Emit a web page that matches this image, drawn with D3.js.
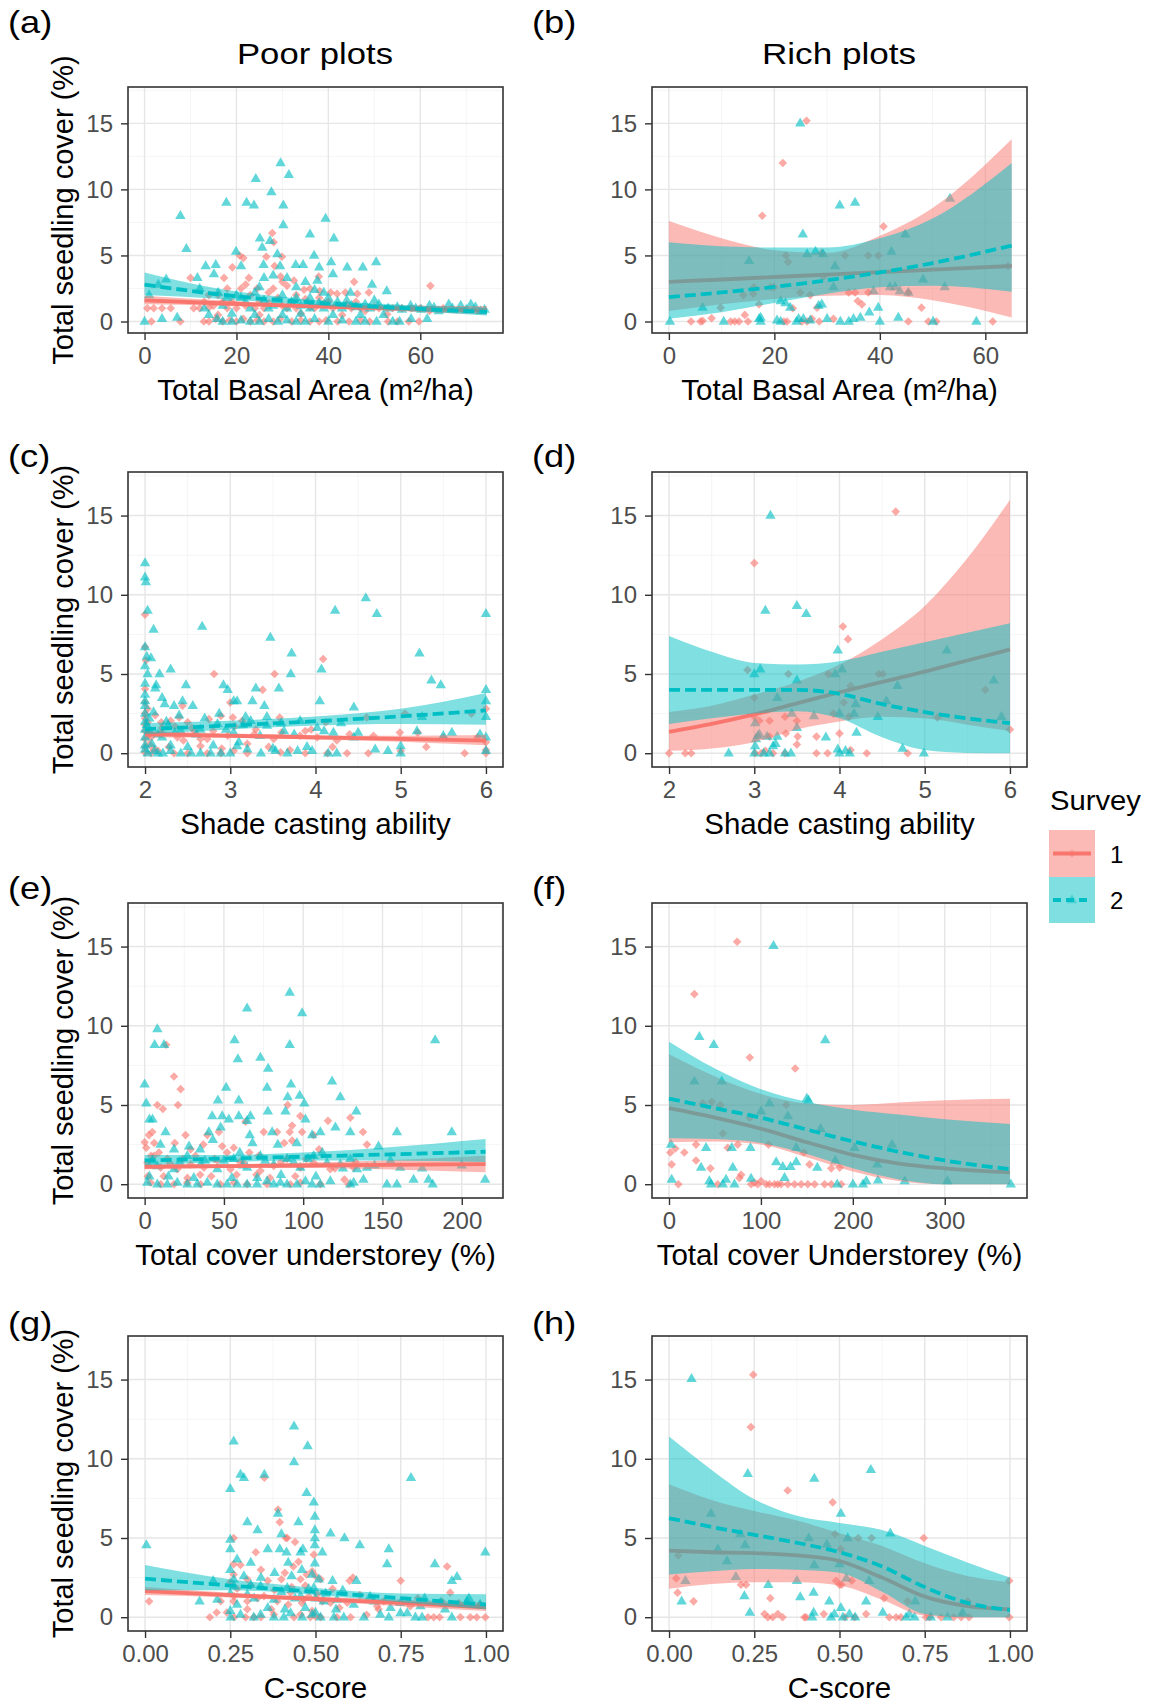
<!DOCTYPE html>
<html><head><meta charset="utf-8">
<script src="https://cdn.jsdelivr.net/npm/d3@7"></script>
<style>
body{margin:0;background:#fff}
text{font-family:Arial,"Liberation Sans",sans-serif}
</style></head>
<body><svg id="chart" width="1149" height="1706"></svg>
<script>
// ---------------- DATA ----------------
const yTicks = [0, 5, 10, 15];
const yTickLabels = ["0", "5", "10", "15"];
const surveyLabels = ["1", "2"];

// (a) Poor plots – Total Basal Area
const aTicks = [0, 20, 40, 60];
const aSurvey1 = [[0.6,1.0],[2.0,1.0],[3.8,1.0],[5.7,1.0],[1.5,0],[7.8,0],[10.0,3.3],[10.7,1.0],[12.9,0],[14.0,1.05],[17.3,3.3],[19.1,4.1],[20.7,5.0],[21.5,4.8],[22.7,3.3],[24.5,2.5],[26.5,4.9],[27.8,6.7],[28.1,6.0],[28.3,4.2],[29.9,4.9],[29.6,3.4],[31.0,2.7],[32.5,3.1],[34.7,2.4],[37.9,3.4],[38.1,2.3],[40.5,2.2],[41.9,2.1],[43.7,2.2],[45.6,3.0],[46.3,2.1],[48.8,2.2],[62.2,2.7],[57.5,0],[59.7,0],[52.8,0.55],[13,1.5],[15,1.2],[16,2.0],[18,1.0],[19,1.5],[21,2.5],[22,1.2],[23,2.0],[25,1.5],[26,1.0],[27,2.2],[29,1.8],[30,1.2],[32,1.5],[33,1.0],[35,1.7],[36,1.1],[39,1.4],[41,1.0],[44,1.3],[47,1.0],[50,1.1],[54,1.0],[58,1.0],[65,1.0],[14,0],[15.5,0.2],[17,0],[18.5,0.1],[20,0],[21.5,0.2],[23,0],[24.5,0.1],[26,0],[28,0],[29.5,0.2],[32,0],[34,0.1],[36,0],[38,0],[39.5,0.1],[42,0],[44.5,0],[47,0.1],[49,0],[12,1.0],[14,2.0],[16,0.5],[17,1.5],[18,2.5],[20,1.0],[22,2.8],[24,1.0],[25,0.5],[27,1.4],[28,2.5],[30,3.0],[31,1.0],[33,2.0],[34,0.6],[36,2.5],[37,1.0],[38,1.8],[40,1.5],[42,1.2],[43,0.5],[45,1.0],[46,1.5],[48,0.8],[51,1.0],[53,0],[55,0],[56,1.0],[60,1.0],[62,0.8]];
const aSurvey2 = [[0,0],[3.8,0.2],[4.7,3.2],[7.8,8.0],[7.1,0.3],[9.1,5.5],[11.5,3.3],[13.3,4.2],[15.5,4.3],[17.8,9.0],[19.9,5.3],[22.2,9.0],[24.2,10.8],[23.8,8.8],[25.1,6.3],[25.6,5.6],[27.6,9.8],[29.6,12.0],[30.2,8.8],[30.2,7.3],[31.4,11.1],[28.9,5.1],[27.3,6.1],[25.9,4.3],[29.5,4.2],[32.9,4.3],[34.5,4.3],[36.0,6.6],[36.9,5.0],[38.0,4.1],[39.4,7.8],[41.2,6.3],[40.6,4.5],[41.0,3.6],[44.1,4.1],[47.5,4.1],[50.4,4.5],[49.5,2.8],[52.7,2.3],[37.6,3.1],[44.8,2.2],[39.0,2.2],[15.1,3.6],[21,4.2],[26,3.3],[28,3.5],[31,3.3],[33,2.6],[35,3.0],[12,2.5],[16,2.2],[18,1.8],[20,2.0],[22,1.5],[24,2.2],[26,1.6],[28,1.2],[30,2.0],[32,1.5],[34,1.2],[36,1.8],[38,1.4],[42,1.5],[45,1.2],[48,1.3],[50,1.6],[53,1.0],[55,1.1],[57.9,1.2],[60.2,0.9],[63,1.05],[66.2,1.3],[68.8,1.2],[71,1.3],[73.1,0.8],[15.8,0.2],[17,0],[19,0],[21,0.1],[23,0],[25,0],[27,0.2],[29,0],[31,0.1],[33,0],[35,0],[37,0.2],[40,0],[43,0.1],[46,0],[48,0],[50.5,0],[54,0],[55.5,0],[61.5,0.2],[3,2.8],[1,2.0],[13,1.0],[14,0.5],[17,1.2],[19,0.6],[21,1.8],[23,1.0],[24,0.5],[25,2.6],[27,1.0],[29,1.5],[30,0.5],[31,1.0],[33,1.8],[34,0.6],[36,1.0],[37,2.4],[39,1.0],[40,1.8],[41,0.5],[43,1.0],[44,1.6],[46,1.1],[47,0.5],[49,1.0],[51,1.3],[52,0.5],[56,0.9],[58,0.2],[59,1.0],[62,1.2],[64,0.8],[67,1.0],[70,0.9],[72,1.1],[74,0.9]];
const aFitX = [0, 15, 30, 45, 60, 74.5];
const aFit1 = [1.6, 1.4, 1.22, 1.07, 0.93, 0.82];
const aLo1 = [1.3, 1.2, 1.07, 0.92, 0.72, 0.55];
const aHi1 = [1.95, 1.62, 1.38, 1.25, 1.2, 1.15];
const aFit2 = [2.8, 2.1, 1.6, 1.25, 0.95, 0.72];
const aLo2 = [2.0, 1.75, 1.4, 1.05, 0.75, 0.45];
const aHi2 = [3.7, 2.55, 1.85, 1.45, 1.2, 1.05];

// (b) Rich plots – Total Basal Area
const bTicks = [0, 20, 40, 60];
const bSurvey1 = [[4.2,0],[6.0,0],[6.4,0.05],[8.1,0.25],[9.8,1.05],[11.7,0],[13.3,0],[14.1,2.0],[14.4,0.5],[16.0,2.1],[16.1,2.6],[17.1,1.3],[17.7,8.0],[19.3,2.6],[19.9,2.6],[21.6,12.0],[22.2,5.0],[22.6,4.5],[21.8,0],[22.4,0],[26.1,15.2],[24.9,2.2],[25.2,0],[26.2,0],[27.1,0.2],[26.8,2.0],[28.1,1.05],[29.0,5.2],[29.3,3.4],[31.2,0.2],[33.4,5.0],[34.1,2.2],[35.3,2.2],[35.8,1.55],[36.6,1.3],[37.8,5.0],[37.8,2.2],[39.7,5.0],[40.7,7.2],[45.4,0],[45.4,2.2],[47.9,1.05],[49.2,0],[50.7,0],[61.4,0],[64.3,4.2],[12.5,0],[15,0],[23.5,1.0],[28.5,0]];
const bSurvey2 = [[0.2,0],[6.4,1.05],[10.4,0],[15.2,4.6],[17.1,0.2],[17.4,0.3],[20.5,0.1],[21.2,1.55],[22.1,1.4],[23.0,1.05],[24.9,15.0],[25.4,6.6],[26.2,5.1],[27.8,5.3],[28.4,1.2],[29.0,1.3],[29.2,5.1],[30.0,0.2],[31.2,2.6],[31.5,4.2],[32.4,8.8],[35.3,9.0],[36.3,0.3],[38.0,0.7],[38.8,2.3],[39.7,1.05],[40.0,0],[42.2,5.3],[41.9,2.6],[42.9,2.6],[43.8,2.3],[43.5,0.3],[44.8,6.6],[45.4,2.2],[48.2,3.2],[50.1,0],[52.3,2.6],[53.3,9.3],[58.3,0],[17.4,0],[21.2,0],[24.2,0],[24.6,0.2],[32.5,0],[34.1,0],[35.0,0.2],[25.5,0.2],[26.8,0.1]];
const bFitX = [0, 10, 20, 30, 40, 50, 65];
const bFit1 = [3.0, 3.18, 3.37, 3.55, 3.74, 3.92, 4.2];
const bLo1 = [0.8, 1.3, 1.7, 1.95, 2.0, 1.6, 0.3];
const bHi1 = [7.6, 6.3, 5.4, 5.2, 6.5, 8.6, 13.8];
const bFit2 = [1.85, 2.2, 2.62, 3.12, 3.71, 4.42, 5.75];
const bLo2 = [0.2, 0.7, 1.4, 2.1, 2.6, 2.7, 2.25];
const bHi2 = [6.0, 5.7, 5.6, 5.6, 6.3, 7.8, 12.0];

// (c) Poor plots – Shade casting ability
const cTicks = [2, 3, 4, 5, 6];
const cSurvey1 = [[2,8.75],[2,6.7],[2.01,5.85],[2,4.05],[2,3.2],[2,2.5],[2.03,1.95],[2,1.4],[2.19,1.95],[2.3,2.05],[2.4,2.25],[2.44,3.0],[2.5,1.95],[2.81,5.0],[2.75,2.15],[2.89,2.35],[3.0,3.2],[3.03,2.25],[3.14,2.05],[3.38,4.0],[3.52,5.0],[3.58,2.25],[3.88,1.4],[4.09,5.95],[4.12,1.95],[4.6,2.25],[5.05,2.5],[5.2,1.3],[5.83,2.5],[6.0,2.8],[6.0,0.7],[6.0,0],[6.0,0.2],[5.75,0],[5.0,0.15],[4.62,0],[4.37,0],[4.14,0],[3.88,0],[3.59,0.05],[3.2,0],[3.04,0.15],[2.89,0],[2.73,0],[2.65,0.45],[2.5,0],[2.34,0],[2.15,0.15],[2.07,0],[2,0.05],[2.05,0.57],[2.07,1.0],[2.19,1.3],[2.38,1.0],[2.58,1.4],[2.73,0.9],[2.97,1.1],[3.28,1.2],[3.51,0.9],[3.82,1.1],[4.02,1.0],[4.25,0.8],[4.68,1.1],[4.99,1.3],[5.5,1.0],[2,0.4],[2,0.9],[2,1.8],[2,2.2],[2.03,2.8],[2.05,1.2],[2.1,0.3],[2.12,2.4],[2.2,1.6],[2.28,0.4],[2.35,1.7],[2.45,0.8],[2.55,1.6],[2.65,0.9],[2.8,1.4],[2.9,0.3],[3.05,1.7],[3.2,0.6],[3.3,1.5],[3.45,0.4],[3.6,1.3],[3.7,0.2],[3.95,1.5],[4.2,0.4],[4.4,1.2],[5.3,0.4],[5.9,1.0]];
const cSurvey2 = [[2,12.0],[2,11.1],[2.01,10.8],[2.03,9.0],[2.1,7.8],[2,6.7],[2.02,6.1],[2.07,6.0],[2,5.5],[2.03,5.0],[2,4.4],[2,3.7],[2,3.3],[2.13,4.3],[2.17,5.0],[2.12,4.1],[2.2,3.5],[2.3,5.3],[2.23,3.1],[2.34,3.0],[2.44,3.3],[2.48,4.3],[2.56,3.0],[2.67,8.0],[2.87,2.5],[2.92,4.3],[2.97,4.0],[3.04,3.3],[3.08,3.3],[3.18,2.3],[3.26,3.3],[3.3,4.1],[3.4,3.0],[3.47,7.3],[3.43,2.3],[3.57,4.1],[3.71,5.0],[3.72,6.3],[4.05,3.3],[4.07,5.3],[4.23,9.0],[4.45,2.9],[4.59,9.8],[4.72,8.8],[5.22,6.3],[5.36,4.6],[5.47,4.3],[6,8.8],[6,4.0],[6,3.3],[6,2.3],[6,1.0],[6,0.15],[5.25,2.3],[5.0,0.45],[5.0,0],[4.85,0.15],[4.7,0.25],[4.25,0],[4.15,0],[3.96,0.15],[3.79,0.15],[3.67,0],[3.53,0.15],[3.36,0],[3.2,0.25],[3.08,0.46],[3.0,0],[2.89,0],[2.77,0],[2.65,0],[2.54,0],[2.42,0],[2.3,0.15],[2.21,0],[2.11,0.15],[2.03,0],[2,0.25],[2,1.0],[2.05,1.4],[2.15,1.2],[2.27,1.75],[2.42,1.4],[2.65,1.5],[2.85,1.85],[3.04,1.3],[3.24,2.05],[3.43,1.75],[3.63,1.4],[3.82,2.05],[4.02,1.6],[4.21,1.3],[4.45,1.0],[5.19,1.4],[5.5,1.1],[5.93,1.2],[2,0.5],[2,1.5],[2,2.0],[2,2.5],[2,3.0],[2.02,1.8],[2.05,2.2],[2.08,0.6],[2.1,2.6],[2.15,0],[2.2,1.0],[2.25,2.0],[2.3,0.5],[2.35,1.3],[2.4,2.4],[2.5,0.4],[2.6,1.2],[2.7,2.2],[2.8,0.5],[2.95,1.5],[3.1,0.7],[3.15,1.8],[3.35,1.1],[3.5,0.3],[3.6,1.9],[3.75,1.2],[3.9,0.4],[4.1,1.4],[4.3,1.9],[4.5,1.3],[5.6,1.3]];
const cFitX = [2, 3, 4, 5, 6];
const cFit1 = [1.2, 1.1, 1.0, 0.9, 0.8];
const cLo1 = [1.0, 0.97, 0.87, 0.72, 0.5];
const cHi1 = [1.4, 1.24, 1.14, 1.1, 1.15];
const cFit2 = [1.52, 1.75, 2.02, 2.33, 2.7];
const cLo2 = [1.2, 1.5, 1.75, 1.85, 1.8];
const cHi2 = [1.9, 2.05, 2.32, 2.8, 3.8];

// (d) Rich plots – Shade casting ability
const dTicks = [2, 3, 4, 5, 6];
const dSurvey1 = [[2,0],[2.19,0],[2.26,0],[3.0,12.0],[2.92,5.25],[3.0,3.5],[3.0,2.3],[3.06,2.05],[3.18,2.05],[3.08,0],[3.01,0],[3.13,0.15],[3.22,0],[3.36,0],[3.18,1.05],[3.37,1.25],[3.4,5.0],[3.36,2.3],[3.5,2.05],[3.51,1.05],[3.5,0.55],[3.73,1.05],[3.73,0],[3.86,0],[3.87,5.0],[3.93,2.5],[4.0,1.25],[4.04,8.0],[4.1,7.2],[4.05,3.2],[4.13,4.25],[4.11,2.3],[4.13,0.2],[4.32,0],[4.46,5.0],[4.51,5.0],[4.66,15.25],[4.8,0],[5.15,2.25],[5.71,4.0],[6.0,1.5]];
const dSurvey2 = [[2.7,0],[3.0,0],[3.01,0.46],[3.02,0.89],[3.04,1.1],[3.06,1.2],[3.0,5.0],[3.07,5.3],[3.01,1.9],[3.19,15.0],[3.13,9.0],[3.27,1.05],[3.22,0.46],[3.18,0],[3.11,0],[3.36,0],[3.43,0],[3.27,3.5],[3.5,9.3],[3.61,8.8],[3.5,4.6],[3.44,2.5],[3.5,1.6],[3.84,1.0],[3.7,2.35],[3.98,6.5],[3.95,5.0],[4.03,5.3],[4.0,2.5],[4.0,0],[3.98,0.25],[4.07,0.15],[4.12,0],[4.2,1.3],[4.19,3.1],[4.17,2.5],[4.45,2.3],[4.55,3.3],[4.68,4.25],[4.74,0.3],[4.99,0],[5.26,6.5],[5.81,4.6],[5.9,2.3],[3.15,1.05],[3.25,0.6]];
const dFitX = [2, 2.5, 3, 3.5, 4, 4.5, 5, 5.5, 6];
const dFit1 = [1.35, 1.85, 2.45, 3.15, 3.85, 4.5, 5.15, 5.85, 6.55];
const dLo1 = [0.15, 0.3, 0.7, 1.5, 2.0, 2.3, 2.2, 1.8, 1.4];
const dHi1 = [2.6, 3.0, 3.7, 4.5, 5.6, 7.2, 9.3, 12.3, 16.0];
const dFit2 = [4.0, 4.0, 4.0, 4.0, 3.75, 3.1, 2.6, 2.2, 1.9];
const dLo2 = [1.85, 2.2, 2.5, 2.65, 2.2, 1.0, 0.2, 0.02, 0];
const dHi2 = [7.4, 6.4, 5.7, 5.6, 5.8, 6.4, 7.0, 7.6, 8.2];

// (e) Poor plots – Total cover understorey
const eTicks = [0, 50, 100, 150, 200];
const eSurvey1 = [[0,2.65],[1,2.3],[2.7,3.1],[4.8,3.3],[8,5.0],[11.5,4.75],[13.6,8.8],[18.5,6.8],[22.7,6.0],[21,5.0],[25.8,3.1],[29,2.2],[35,0.6],[39.5,3.1],[46.8,3.3],[48.9,2.4],[56.2,2.3],[63.6,3.95],[70.5,0.6],[75.1,3.3],[83.5,3.3],[90.2,5.0],[91.5,3.3],[93,3.7],[93,2.75],[98.2,4.3],[99.3,3.3],[106.6,3.1],[115.6,4.0],[129.7,4.2],[137.7,3.3],[140.2,2.5],[128.6,0],[110.8,0],[98.2,0.1],[91.9,0],[77.2,0],[64.6,0],[56.2,0.1],[47.8,0],[35.3,0],[26.9,0.1],[18.5,0],[10.1,0],[3.8,0.1],[1.7,1.35],[5.9,1.8],[10.1,1.05],[14.3,1.6],[20.6,0.95],[29,1.25],[37.4,1.05],[45.8,1.5],[54.1,0.95],[62.5,1.35],[73,0.85],[81.4,1.15],[89.8,1.6],[98.2,1.05],[106.6,1.35],[117.1,0.95],[131.8,1.05],[2,0.5],[4,1.8],[6,2.6],[9,2.0],[12,0.5],[16,1.3],[19,2.6],[24,1.6],[27,0.4],[32,1.8],[37,2.5],[42,0.5],[44,1.6],[52,2.0],[58,0.6],[60,1.4],[66,2.0],[72,1.8],[79,0.4],[86,1.4],[88,2.6],[95,0.5],[102,1.6],[110,2.2],[120,1.0],[126,0.3],[133,1.4]];
const eSurvey2 = [[0,6.3],[1,5.1],[3,4.1],[5,4.1],[8,9.8],[6.3,8.8],[12.2,8.8],[13.2,3.3],[18.5,2.2],[35,2.2],[40.5,3.3],[42.6,4.3],[46.2,5.3],[48.9,4.3],[47.9,3.6],[51.4,6.1],[53.1,4.1],[56.7,9.1],[58.8,7.9],[59.4,5.3],[59.4,4.3],[64.6,11.1],[64.6,4.0],[66.7,4.3],[66.3,3.1],[73,8.0],[77.9,7.3],[77.2,6.1],[77.7,4.6],[80.4,3.3],[88.8,4.6],[90.2,5.5],[91.5,12.1],[91.5,8.8],[92.3,6.3],[97.8,5.6],[99.3,10.8],[100.7,5.1],[101.4,4.1],[105.6,3.1],[110.8,3.3],[118.2,6.5],[120.3,3.6],[123.4,5.5],[129.7,3.3],[133.5,4.6],[147.5,2.4],[159.1,3.3],[183.2,9.1],[193.7,3.3],[214.7,0.3],[152.8,0],[159.1,0],[169.6,0.3],[179,0.3],[181.7,0],[129.7,0],[131.8,0.1],[117.1,0.2],[110.8,0],[105.6,0],[101.4,0.2],[96.1,0],[89.8,0],[85.6,0.1],[81.4,0],[77.2,0.2],[70.9,0],[64.6,0],[58.3,0],[52,0],[45.8,0],[39.5,0.1],[33.2,0],[26.9,0],[20.6,0.1],[14.3,0],[8,0],[1.7,0.1],[8,1.15],[18.5,0.95],[26.9,1.8],[35.3,1.25],[45.8,0.95],[56.2,1.6],[64.6,1.05],[73,1.8],[81.4,1.25],[89.8,1.6],[98.2,1.05],[106.6,1.8],[115,1.35],[123.4,1.25],[133.9,0.95],[140.2,1.05],[161.2,1.05],[129.7,1.6],[3,0.5],[5,1.5],[10,2.5],[15,0.5],[22,1.4],[28,2.4],[31,0.4],[38,1.5],[43,2.8],[50,1.5],[55,0.4],[60,2.0],[62,1.2],[68,2.6],[71,0.4],[76,1.5],[84,2.5],[86,0.6],[94,1.4],[96,2.6],[103,1.6],[108,0.5],[112,2.0],[125,1.0],[138,0.3],[145,1.2],[155,1.5],[175,1.0],[200,1.2]];
const eFitX = [0, 50, 100, 150, 215];
const eFit1 = [1.1, 1.14, 1.18, 1.22, 1.27];
const eLo1 = [0.95, 1.02, 1.03, 0.95, 0.75];
const eHi1 = [1.28, 1.27, 1.35, 1.5, 1.8];
const eFit2 = [1.5, 1.62, 1.74, 1.87, 2.05];
const eLo2 = [1.2, 1.4, 1.5, 1.5, 1.4];
const eHi2 = [1.85, 1.85, 2.0, 2.3, 2.85];

// (f) Rich plots – Total cover Understorey
const fTicks = [0, 100, 200, 300];
const fSurvey1 = [[1.5,2.0],[2.9,1.25],[6.9,2.25],[10.2,0],[16.7,2.0],[27.6,12.0],[29.4,2.5],[29.4,1.5],[36.7,5.1],[45,1.0],[46.5,5.2],[53,0],[55.9,5.0],[58.5,3.2],[63.9,2.3],[74.1,15.3],[74.8,2.5],[76.6,0.4],[78.5,0.6],[87.9,8.0],[87.9,4.2],[89.3,0],[93,0.1],[96.6,0],[100.2,0.2],[105.7,0],[109.3,0],[114.8,0],[118.4,0],[122,0],[129.3,0],[136.6,0],[143.8,0],[151.1,0],[158.4,0],[169.3,0],[176.5,0],[187.4,0],[108.2,2.5],[127.5,5.0],[137.3,7.3],[146.7,2.0],[152.9,1.25],[176.5,1.0],[185.6,1.05]];
const fSurvey2 = [[2.2,2.5],[2.9,0.3],[27.6,6.5],[33,9.3],[34.9,1.05],[40.3,2.3],[43.9,0.2],[45.8,0],[48.7,8.8],[57.4,6.5],[58.5,0],[62,0.3],[68.3,2.3],[69.4,1.05],[71.2,0],[88.6,2.3],[89.3,0.35],[100.2,4.6],[109.3,5.1],[113.7,15.05],[116.6,1.4],[123.8,1.1],[125.7,0.4],[129.3,4.3],[132.2,1.1],[138.4,1.4],[138.4,2.3],[150,5.4],[151.8,5.3],[161.3,1.05],[164.9,3.5],[170,9.1],[180.9,1.5],[183,0],[201.9,2.3],[200.1,0],[211,0],[214.6,0.2],[226.6,1.25],[227.4,0.25],[242.6,2.5],[256.4,0.2],[302.9,0.2],[371.9,0]];
const fFitX = [0, 50, 100, 150, 200, 250, 300, 371];
const fFit1 = [4.8, 4.2, 3.5, 2.65, 1.85, 1.3, 1.0, 0.75];
const fLo1 = [2.65, 2.7, 2.5, 1.7, 0.8, 0.2, 0, 0];
const fHi1 = [8.2, 6.8, 5.7, 5.1, 5.0, 5.15, 5.3, 5.4];
const fFit2 = [5.4, 4.8, 4.2, 3.45, 2.7, 2.05, 1.5, 0.95];
const fLo2 = [2.9, 2.85, 2.6, 1.9, 1.0, 0.3, 0, 0];
const fHi2 = [9.0, 7.3, 6.0, 5.2, 4.7, 4.4, 4.1, 3.8];

// (g) Poor plots – C-score
const gTicks = [0, 0.25, 0.5, 0.75, 1];
const gSurvey1 = [[0.012,1.0],[0.19,0],[0.21,0.3],[0.24,0.3],[0.26,5.0],[0.26,3.35],[0.26,2.7],[0.295,0],[0.3,2.4],[0.325,4.1],[0.35,8.8],[0.34,3.0],[0.34,0],[0.39,6.8],[0.395,6.0],[0.4,2.4],[0.413,5.0],[0.417,5.0],[0.44,4.75],[0.435,3.2],[0.456,2.4],[0.474,2.7],[0.49,2.9],[0.495,3.95],[0.485,0],[0.5,0.05],[0.515,2.4],[0.6,2.3],[0.61,2.5],[0.65,0.15],[0.685,0.5],[0.75,2.3],[0.83,0],[0.847,0],[0.864,0],[0.886,3.2],[0.895,1.55],[0.925,0],[0.954,0],[0.973,0],[0.998,0],[0.983,0.8],[0.261,0],[0.319,0],[0.378,0.17],[0.437,0],[0.456,0.17],[0.515,0],[0.563,0],[0.603,0],[0.222,1.01],[0.261,1.33],[0.3,1.01],[0.349,1.33],[0.388,1.01],[0.427,1.54],[0.466,1.12],[0.505,1.44],[0.544,0.91],[0.593,0.91],[0.681,0.7],[0.778,0.7],[0.25,2.2],[0.26,1.0],[0.27,1.8],[0.28,3.3],[0.3,0.5],[0.31,2.0],[0.33,1.2],[0.36,2.3],[0.37,0.5],[0.38,1.7],[0.41,2.8],[0.42,0.8],[0.43,1.9],[0.45,3.5],[0.46,0.9],[0.47,2.0],[0.48,1.3],[0.49,0.4],[0.5,2.6],[0.52,1.0],[0.55,1.8],[0.57,0.6],[0.63,1.4],[0.7,1.0],[0.8,1.2],[0.87,1.0],[0.92,0.9]];
const gSurvey2 = [[0.004,4.55],[0.16,1.0],[0.2,2.3],[0.25,8.1],[0.26,11.1],[0.25,4.9],[0.25,4.3],[0.25,3.0],[0.25,0.4],[0.28,9.0],[0.29,8.8],[0.27,3.65],[0.3,6.0],[0.31,3.45],[0.31,2.05],[0.33,5.5],[0.35,9.0],[0.36,4.3],[0.39,6.55],[0.395,4.3],[0.4,5.25],[0.415,4.1],[0.42,3.45],[0.437,12.05],[0.437,9.8],[0.45,6.0],[0.456,4.1],[0.463,4.3],[0.474,7.85],[0.477,10.8],[0.495,7.25],[0.498,6.35],[0.498,5.5],[0.498,5.0],[0.498,4.55],[0.498,3.4],[0.52,4.1],[0.544,5.3],[0.55,2.3],[0.585,5.0],[0.63,4.55],[0.62,2.3],[0.71,3.35],[0.715,4.3],[0.78,8.8],[0.85,3.35],[0.9,2.3],[0.915,2.55],[0.998,4.1],[0.251,0],[0.28,0.17],[0.319,0],[0.339,0.17],[0.378,0],[0.407,0],[0.427,0.27],[0.461,0],[0.49,0.17],[0.515,0],[0.554,0],[0.583,0],[0.642,0],[0.69,0.17],[0.715,0],[0.749,0.27],[0.769,0.27],[0.793,0],[0.8125,0],[0.9,0],[0.212,1.12],[0.261,1.96],[0.3,1.44],[0.339,1.96],[0.378,1.12],[0.417,1.86],[0.456,1.33],[0.495,1.86],[0.524,1.01],[0.563,1.12],[0.612,0.8],[0.671,1.01],[0.749,0.91],[0.808,0.7],[0.866,0.91],[0.944,1.01],[0.983,0.8],[0.25,1.5],[0.26,2.4],[0.27,0.8],[0.29,2.6],[0.32,1.2],[0.34,2.5],[0.36,0.6],[0.38,2.8],[0.4,1.6],[0.41,0.5],[0.43,2.6],[0.44,1.2],[0.46,3.0],[0.47,0.6],[0.48,1.8],[0.49,2.7],[0.5,1.2],[0.5,0.3],[0.51,2.4],[0.53,1.5],[0.56,0.5],[0.58,1.7],[0.66,1.3],[0.72,0.6],[0.82,1.2],[0.88,0.5],[0.95,1.2]];
const gFitX = [0, 0.25, 0.5, 0.75, 1];
const gFit1 = [1.65, 1.4, 1.15, 0.9, 0.63];
const gLo1 = [1.4, 1.25, 1.0, 0.7, 0.4];
const gHi1 = [1.9, 1.55, 1.3, 1.1, 0.9];
const gFit2 = [2.43, 2.0, 1.6, 1.2, 0.8];
const gLo2 = [1.7, 1.7, 1.4, 0.95, 0.5];
const gHi2 = [3.3, 2.4, 1.85, 1.5, 1.45];

// (h) Rich plots – C-score
const hTicks = [0, 0.25, 0.5, 0.75, 1];
const hSurvey1 = [[0.021,2.45],[0.025,1.55],[0.072,1.0],[0.027,3.9],[0.211,2.05],[0.226,2.05],[0.247,15.3],[0.24,12.0],[0.28,0.2],[0.29,0],[0.304,0],[0.319,0.2],[0.333,0],[0.297,1.2],[0.348,8.0],[0.397,0],[0.402,0],[0.454,0.2],[0.48,7.25],[0.487,5.25],[0.49,2.3],[0.5,2.05],[0.504,4.3],[0.506,2.05],[0.516,0],[0.536,2.3],[0.544,0],[0.555,5.0],[0.578,0.2],[0.594,5.0],[0.631,1.2],[0.646,0],[0.666,0],[0.68,0],[0.7,1.0],[0.747,5.0],[0.754,0],[0.764,0],[0.798,0],[0.835,0],[0.857,0],[0.88,0],[0.876,1.0],[0.998,2.3],[0.998,0]];
const hSurvey2 = [[0.037,1.0],[0.048,2.3],[0.066,15.05],[0.123,6.55],[0.143,4.3],[0.17,3.55],[0.196,2.55],[0.209,5.25],[0.221,1.33],[0.223,4.55],[0.231,9.05],[0.237,0.3],[0.291,2.05],[0.375,2.3],[0.385,1.27],[0.41,5.0],[0.426,8.75],[0.424,1.55],[0.426,3.3],[0.424,0.3],[0.42,0],[0.463,4.6],[0.47,1.0],[0.475,0],[0.485,0.2],[0.5,3.35],[0.504,6.55],[0.504,0.6],[0.51,0],[0.52,2.45],[0.524,5.0],[0.529,0.2],[0.546,0],[0.578,1.0],[0.587,2.3],[0.592,9.3],[0.627,0.3],[0.649,5.3],[0.695,0],[0.705,0.2],[0.722,1.0],[0.72,0],[0.768,0],[0.817,0],[0.861,0.3]];
const hFitX = [0, 0.125, 0.25, 0.375, 0.5, 0.625, 0.75, 0.875, 1];
const hFit1 = [4.2, 4.1, 4.05, 3.9, 3.55, 2.5, 1.3, 0.7, 0.5];
const hLo1 = [1.8, 2.1, 2.2, 2.2, 2.0, 1.1, 0.1, 0, 0];
const hHi1 = [8.4, 7.4, 6.7, 6.1, 5.3, 4.5, 3.4, 2.6, 2.2];
const hFit2 = [6.25, 5.7, 5.2, 4.7, 4.1, 3.2, 1.9, 0.9, 0.45];
const hLo2 = [2.7, 2.9, 3.05, 3.0, 2.8, 1.6, 0.2, 0, 0];
const hHi2 = [11.4, 9.3, 7.45, 6.4, 5.95, 5.5, 4.5, 3.45, 2.5];

// ---------------- LAYOUT / STYLE ----------------
const C1 = "#F8766D", C2 = "#00BFC4";
const cols = [{l:128, r:503}, {l:652, r:1027}];
const rows = [{t:87, b:333}, {t:472, b:767}, {t:903, b:1198}, {t:1336, b:1631}];
const yDomain = [-0.87, 17.75];
const fmt2 = d3.format(".2f");
const RIB = 0.5;

const panels = [
  {id:"a", tag:"(a)", col:0, row:0, dom:[-3.6,78.0], ticks:aTicks, fmt:d3.format("d"), title:"Total Basal Area (m²/ha)", s1:aSurvey1, s2:aSurvey2, fx:aFitX, f1:aFit1, lo1:aLo1, hi1:aHi1, f2:aFit2, lo2:aLo2, hi2:aHi2},
  {id:"b", tag:"(b)", col:1, row:0, dom:[-3.2,67.9], ticks:bTicks, fmt:d3.format("d"), title:"Total Basal Area (m²/ha)", s1:bSurvey1, s2:bSurvey2, fx:bFitX, f1:bFit1, lo1:bLo1, hi1:bHi1, f2:bFit2, lo2:bLo2, hi2:bHi2},
  {id:"c", tag:"(c)", col:0, row:1, dom:[1.8,6.2], ticks:cTicks, fmt:d3.format("d"), title:"Shade casting ability", s1:cSurvey1, s2:cSurvey2, fx:cFitX, f1:cFit1, lo1:cLo1, hi1:cHi1, f2:cFit2, lo2:cLo2, hi2:cHi2},
  {id:"d", tag:"(d)", col:1, row:1, dom:[1.8,6.2], ticks:dTicks, fmt:d3.format("d"), title:"Shade casting ability", s1:dSurvey1, s2:dSurvey2, fx:dFitX, f1:dFit1, lo1:dLo1, hi1:dHi1, f2:dFit2, lo2:dLo2, hi2:dHi2},
  {id:"e", tag:"(e)", col:0, row:2, dom:[-10.5,226], ticks:eTicks, fmt:d3.format("d"), title:"Total cover understorey (%)", s1:eSurvey1, s2:eSurvey2, fx:eFitX, f1:eFit1, lo1:eLo1, hi1:eHi1, f2:eFit2, lo2:eLo2, hi2:eHi2},
  {id:"f", tag:"(f)", col:1, row:2, dom:[-18.5,389.5], ticks:fTicks, fmt:d3.format("d"), title:"Total cover Understorey (%)", s1:fSurvey1, s2:fSurvey2, fx:fFitX, f1:fFit1, lo1:fLo1, hi1:fHi1, f2:fFit2, lo2:fLo2, hi2:fHi2},
  {id:"g", tag:"(g)", col:0, row:3, dom:[-0.05,1.05], ticks:gTicks, fmt:fmt2, title:"C-score", s1:gSurvey1, s2:gSurvey2, fx:gFitX, f1:gFit1, lo1:gLo1, hi1:gHi1, f2:gFit2, lo2:gLo2, hi2:gHi2},
  {id:"h", tag:"(h)", col:1, row:3, dom:[-0.05,1.05], ticks:hTicks, fmt:fmt2, title:"C-score", s1:hSurvey1, s2:hSurvey2, fx:hFitX, f1:hFit1, lo1:hLo1, hi1:hHi1, f2:hFit2, lo2:hLo2, hi2:hHi2}
];

const DIAMOND = "M0,-4.3L4.3,0L0,4.3L-4.3,0Z";
const TRIANGLE = "M0,-5.8L5.2,3.2L-5.2,3.2Z";

const svg = d3.select("#chart");
const defs = svg.append("defs");

function minorOf(ticks, dom) {
  const step = ticks[1] - ticks[0], out = [];
  for (let v = ticks[0] - step / 2; v <= dom[1] + 1e-9; v += step) if (v >= dom[0]) out.push(v);
  return out;
}

panels.forEach(p => {
  const c = cols[p.col], r = rows[p.row];
  const x = d3.scaleLinear().domain(p.dom).range([c.l, c.r]);
  const y = d3.scaleLinear().domain(yDomain).range([r.b, r.t]);
  const g = svg.append("g");
  defs.append("clipPath").attr("id", "clip-" + p.id)
    .append("rect").attr("x", c.l).attr("y", r.t).attr("width", c.r - c.l).attr("height", r.b - r.t);
  const inner = g.append("g").attr("clip-path", `url(#clip-${p.id})`);

  // grid
  const yMinor = minorOf(yTicks, yDomain), xMinor = minorOf(p.ticks, p.dom);
  inner.selectAll(".ymn").data(yMinor).join("line").attr("x1", c.l).attr("x2", c.r)
    .attr("y1", d => y(d)).attr("y2", d => y(d)).attr("stroke", "#F2F2F2").attr("stroke-width", 0.8);
  inner.selectAll(".xmn").data(xMinor).join("line").attr("y1", r.t).attr("y2", r.b)
    .attr("x1", d => x(d)).attr("x2", d => x(d)).attr("stroke", "#F2F2F2").attr("stroke-width", 0.8);
  inner.selectAll(".ymj").data(yTicks).join("line").attr("x1", c.l).attr("x2", c.r)
    .attr("y1", d => y(d)).attr("y2", d => y(d)).attr("stroke", "#E6E6E6").attr("stroke-width", 1.4);
  inner.selectAll(".xmj").data(p.ticks).join("line").attr("y1", r.t).attr("y2", r.b)
    .attr("x1", d => x(d)).attr("x2", d => x(d)).attr("stroke", "#E6E6E6").attr("stroke-width", 1.4);

  // points
  inner.append("g").selectAll("path").data(p.s1).join("path")
    .attr("d", DIAMOND).attr("transform", d => `translate(${x(d[0])},${y(d[1])})`)
    .attr("fill", C1).attr("fill-opacity", 0.62);
  inner.append("g").selectAll("path").data(p.s2).join("path")
    .attr("d", TRIANGLE).attr("transform", d => `translate(${x(d[0])},${y(d[1])})`)
    .attr("fill", C2).attr("fill-opacity", 0.62);

  // smooths: ribbon1, line1, ribbon2, line2
  const mk = (fit, lo, hi) => p.fx.map((v, i) => ({x: v, f: fit[i], lo: lo[i], hi: hi[i]}));
  const area = d3.area().x(d => x(d.x)).y0(d => y(d.lo)).y1(d => y(d.hi)).curve(d3.curveMonotoneX);
  const line = d3.line().x(d => x(d.x)).y(d => y(d.f)).curve(d3.curveMonotoneX);
  const s1 = mk(p.f1, p.lo1, p.hi1), s2 = mk(p.f2, p.lo2, p.hi2);
  inner.append("path").attr("d", area(s1)).attr("fill", C1).attr("fill-opacity", RIB);
  inner.append("path").attr("d", line(s1)).attr("fill", "none").attr("stroke", C1).attr("stroke-width", 3.8);
  inner.append("path").attr("d", area(s2)).attr("fill", C2).attr("fill-opacity", RIB);
  inner.append("path").attr("d", line(s2)).attr("fill", "none").attr("stroke", C2).attr("stroke-width", 3.8)
    .attr("stroke-dasharray", "11,5");

  // border
  g.append("rect").attr("x", c.l).attr("y", r.t).attr("width", c.r - c.l).attr("height", r.b - r.t)
    .attr("fill", "none").attr("stroke", "#333333").attr("stroke-width", 1.6);

  // axes
  const xa = g.append("g").attr("transform", `translate(0,${r.b})`)
    .call(d3.axisBottom(x).tickValues(p.ticks).tickFormat(p.fmt).tickSize(7).tickPadding(6.5));
  const ya = g.append("g").attr("transform", `translate(${c.l},0)`)
    .call(d3.axisLeft(y).tickValues(yTicks).tickFormat((d, i) => yTickLabels[i]).tickSize(7).tickPadding(8));
  [xa, ya].forEach(a => {
    a.select(".domain").remove();
    a.selectAll(".tick line").attr("stroke", "#333333").attr("stroke-width", 1.4);
    a.selectAll(".tick text").attr("fill", "#4D4D4D").style("font-size", "24px")
      .style("font-family", "Arial, 'Liberation Sans', sans-serif");
  });

  // x title
  g.append("text").attr("x", (c.l + c.r) / 2).attr("y", r.b + 67).attr("text-anchor", "middle")
    .style("font-size", "29.5px").attr("fill", "#000").text(p.title);

  // y title (left column only)
  if (p.col === 0) {
    const cy = (r.t + r.b) / 2;
    g.append("text").attr("transform", `translate(73,${cy}) rotate(-90)`).attr("text-anchor", "middle")
      .style("font-size", "29px").attr("fill", "#000").text("Total seedling cover (%)");
  }

  // tag
  const tagY = [33, 467, 899, 1334][p.row];
  const tagX = p.col === 0 ? 8 : 532;
  g.append("text").attr("transform", `translate(${tagX},${tagY}) scale(1.17,1)`)
    .style("font-size", "31px").attr("fill", "#000").text(p.tag);
});

// column titles
[["Poor plots", 315, 156], ["Rich plots", 839, 154]].forEach(([t, cx, w]) => {
  svg.append("text").attr("x", cx).attr("y", 64).attr("text-anchor", "middle")
    .style("font-size", "29px").attr("fill", "#000")
    .attr("textLength", w).attr("lengthAdjust", "spacingAndGlyphs").text(t);
});

// legend
const lg = svg.append("g");
lg.append("text").attr("x", 1050).attr("y", 810).style("font-size", "28px").attr("fill", "#000")
  .attr("textLength", 91).attr("lengthAdjust", "spacingAndGlyphs").text("Survey");
const keys = [{c: C1, y: 830, h: 47, dash: null, shape: DIAMOND}, {c: C2, y: 877, h: 46, dash: "8,5", shape: TRIANGLE}];
keys.forEach((k, i) => {
  lg.append("rect").attr("x", 1049).attr("y", k.y).attr("width", 46).attr("height", k.h)
    .attr("fill", k.c).attr("fill-opacity", RIB);
  const cy = k.y + k.h / 2;
  const ln = lg.append("line").attr("x1", 1053).attr("x2", 1091).attr("y1", cy).attr("y2", cy)
    .attr("stroke", k.c).attr("stroke-width", 3.8);
  if (k.dash) ln.attr("stroke-dasharray", k.dash);
  lg.append("path").attr("d", k.shape).attr("transform", `translate(1072,${cy})`)
    .attr("fill", k.c).attr("fill-opacity", 0.4);
  lg.append("text").attr("x", 1110).attr("y", cy + 9).style("font-size", "24px").attr("fill", "#000")
    .text(surveyLabels[i]);
});
</script>
</body></html>
